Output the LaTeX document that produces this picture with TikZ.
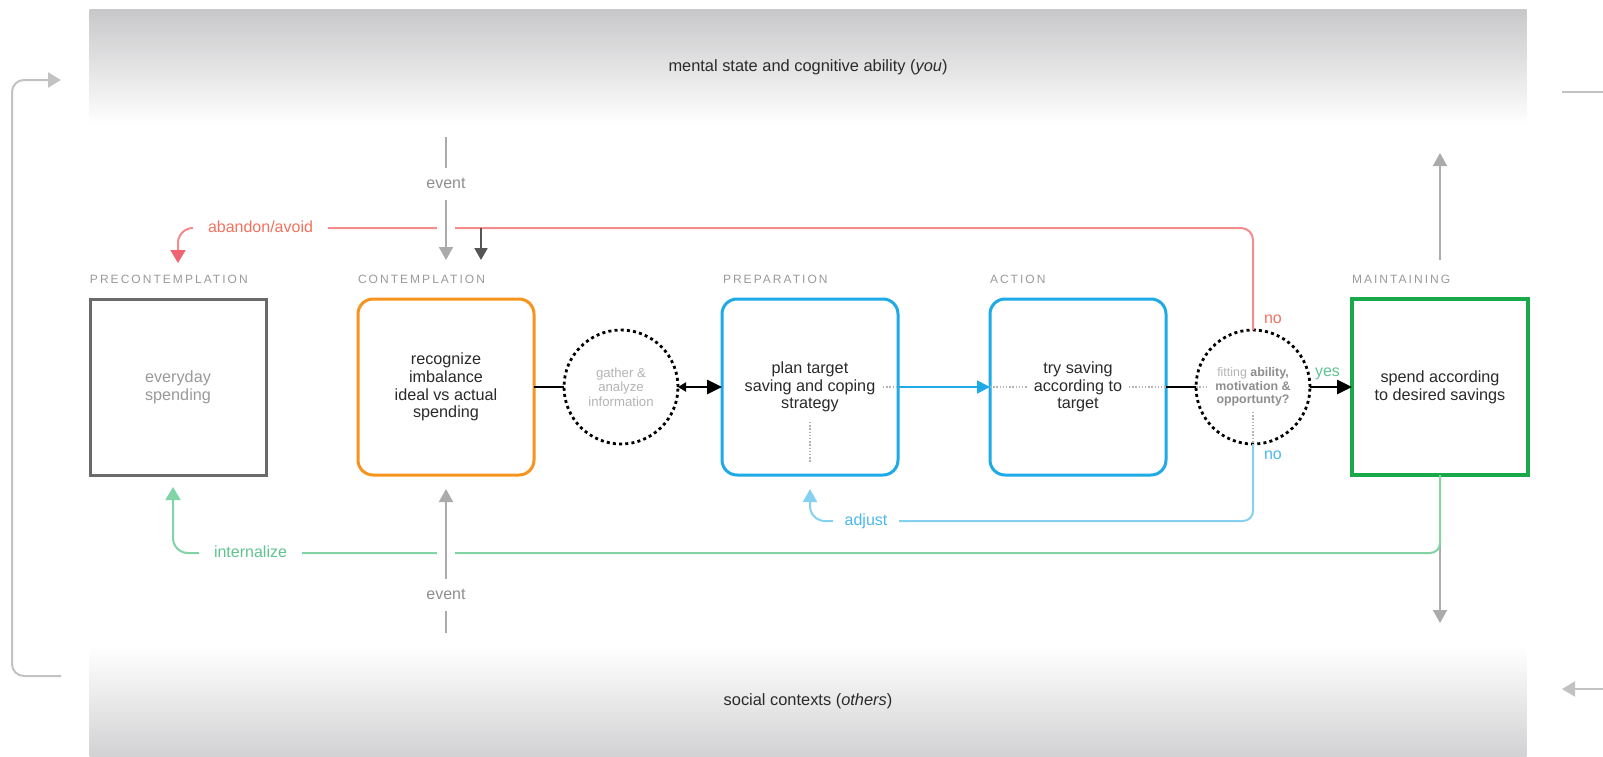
\documentclass[tikz,border=0pt]{standalone}
\usepackage{fontspec}
\setmainfont{Liberation Sans}
\newfontfamily\stagefont[LetterSpace=17]{Liberation Sans}
\usetikzlibrary{arrows.meta}

\definecolor{bandgray}{HTML}{C8C8CA}
\definecolor{bandgraybot}{HTML}{D2D2D4}
\definecolor{inkdark}{HTML}{2A2A2A}
\definecolor{softgray}{HTML}{9A9A9A}
\definecolor{palegray}{HTML}{B4B4B4}
\definecolor{midgray}{HTML}{8E8E8E}
\definecolor{arrowgray}{HTML}{ABABAB}
\definecolor{bracketgray}{HTML}{C2C2C2}
\definecolor{arrowdark}{HTML}{555555}
\definecolor{pregray}{HTML}{6A6A6A}
\definecolor{conorange}{HTML}{F7941D}
\definecolor{stepblue}{HTML}{1EAAE7}
\definecolor{keepgreen}{HTML}{19A84A}
\definecolor{abandonline}{HTML}{F48C8E}
\definecolor{abandontext}{HTML}{F2735F}
\definecolor{abandontip}{HTML}{EF6470}
\definecolor{internline}{HTML}{82D4A6}
\definecolor{interntext}{HTML}{5FC48F}
\definecolor{adjustline}{HTML}{86D1F1}
\definecolor{adjusttext}{HTML}{4DB9E9}

\begin{document}
\begin{tikzpicture}[x=0.5pt,y=-0.5pt,
  every node/.style={inner sep=0pt, outer sep=0pt},
  band/.style={minimum width=718.5pt, font=\fontsize{8.2}{10}\selectfont, text=inkdark},
  stagebox/.style={minimum width=88pt, minimum height=88pt, line width=1.5pt,
    align=center, font=\fontsize{8.1}{8.85}\selectfont, text=inkdark},
  roundbox/.style={stagebox, rounded corners=7.5pt},
  stagename/.style={anchor=west, font=\stagefont\fontsize{6}{6}\selectfont, text=softgray},
  dotcircle/.style={circle, draw=black, line width=1.4pt, dash pattern=on 1.5pt off 1.6pt,
    minimum size=57pt, align=center},
  dotgray/.style={draw=palegray, line width=0.7pt, dash pattern=on 0.7pt off 0.9pt},
  grayline/.style={draw=arrowgray, line width=1pt},
  grayarrow/.style={grayline, -{Triangle[length=6.5pt,width=7pt]}},
  evlab/.style={font=\fontsize{8}{8}\selectfont, text=midgray, text height=4.2pt,
    text depth=0pt, inner ysep=6pt},
  linelab/.style={font=\fontsize{8}{8}\selectfont, text height=4.2pt, text depth=0pt},
  smalllab/.style={font=\fontsize{8}{8}\selectfont, anchor=base west},
  halo/.style={draw=white, line width=9pt},
]
\fill[white] (0,0) rectangle (1603,756);
\useasboundingbox (0,0) rectangle (1603,756);

% context bands
\node[band, minimum height=58pt, top color=bandgray, bottom color=white] (mind) at (808,67)
  {mental state and cognitive ability (\textit{you})};
\node[band, minimum height=54.5pt, top color=white, bottom color=bandgraybot] (social) at (808,701.5)
  {social contexts (\textit{others})};

% outer feedback bracket and side connectors
\coordinate (lbot) at (61,676);
\coordinate (ltop) at (61,80);
\draw[draw=bracketgray, line width=1pt, rounded corners=6pt, -{Triangle[length=6.5pt,width=7.5pt]}]
  (lbot) -- (12,676) -- (12,80) -- (ltop);
\coordinate (rtopA) at (1562,92);
\coordinate (rtopB) at (1603,92);
\draw[draw=bracketgray, line width=1pt] (rtopA) -- (rtopB);
\coordinate (rbotA) at (1603,689);
\coordinate (rbotB) at (1562,689);
\draw[draw=bracketgray, line width=1pt, -{Triangle[length=6.5pt,width=7.5pt]}] (rbotA) -- (rbotB);

% stage names
\node[stagename] (lpre) at (90,279) {PRECONTEMPLATION};
\node[stagename] (lcon) at (358,279) {CONTEMPLATION};
\node[stagename] (lprep) at (723,279) {PREPARATION};
\node[stagename] (lact) at (990,279) {ACTION};
\node[stagename] (lmain) at (1352,279) {MAINTAINING};

% stages
\node[stagebox, draw=pregray, text=softgray] (pre) at (178,387) {everyday\\spending};
\node[roundbox, draw=conorange] (con) at (446,387) {recognize\\imbalance\\ideal vs actual\\spending};
\node[dotcircle, text=palegray, font=\fontsize{6.6}{7.2}\selectfont] (gather) at (621,387)
  {gather \&\\analyze\\information};
\node[roundbox, draw=stepblue] (prep) at (810,387) {plan target\\saving and coping\\strategy};
\node[roundbox, draw=stepblue] (act) at (1078,387) {try saving\\according to\\target};
\node[dotcircle, text=midgray, font=\fontsize{6.2}{6.75}\selectfont] (dec) at (1253,387)
  {{\color{palegray}fitting} \textbf{ability,}\\\textbf{motivation \&}\\\textbf{opportunty?}};
\node[stagebox, draw=keepgreen, line width=1.6pt] (main) at (1440,387) {spend according\\to desired savings};

% dotted guides through the plan and the trial
\coordinate (prepdot) at (883,387);
\coordinate (prepdown) at (810,422);
\coordinate (prepdownend) at (810,463);
\coordinate (actdotL) at (1027,387);
\coordinate (actdotR) at (1129,387);
\coordinate (decdot) at (1207,387);
\coordinate (decdown) at (1253,412);
\draw[dotgray] (prepdot) -- (prep.east);
\draw[dotgray] (prepdown) -- (prepdownend);
\draw[dotgray] (act.west) -- (actdotL);
\draw[dotgray] (actdotR) -- (decdot);
\draw[dotgray] (decdown) -- (dec.south);

% main flow
\draw[line width=0.6pt] (con.east) -- (gather.west);
\draw[line width=1.3pt, {Triangle[length=4pt,width=4.5pt]}-{Triangle[length=7.5pt,width=7pt]}]
  (gather.east) -- (prep.west);
\draw[draw=stepblue, line width=0.9pt, -{Triangle[length=6.5pt,width=6.5pt]}] (prep.east) -- (act.west);
\draw[line width=1.3pt] (act.east) -- (dec.west);
\draw[line width=1.3pt, -{Triangle[length=7.5pt,width=7pt]}] (dec.east) -- (main.west);

% outcome labels
\node[smalllab, text=abandontext] (no1) at (1264,323) {no};
\node[smalllab, text=interntext] (yes) at (1315,376) {yes};
\node[smalllab, text=adjusttext] (no2) at (1264,459) {no};

% maintaining feeds both contexts
\coordinate (mainbelow) at (1440,623);
\coordinate (mainabove) at (1440,260);
\coordinate (mainup) at (1440,153);
\draw[grayarrow] (main.south) -- (mainbelow);
\draw[grayarrow] (mainabove) -- (mainup);

% abandon loop
\node[linelab, text=abandontext, minimum width=67.5pt] (aband) at (260.5,228) {abandon/avoid};
\coordinate (redend) at (178,263);
\draw[draw=abandonline, line width=1pt, rounded corners=6pt] (dec.north) |- (aband.east);
\draw[draw=abandonline, line width=1pt, rounded corners=7.5pt,
  -{Triangle[length=6.5pt,width=7.5pt,color=abandontip]}] (aband.west) -| (redend);

% internalize loop
\node[linelab, text=interntext, minimum width=51.5pt] (intl) at (250.5,553) {internalize};
\coordinate (greenend) at (173,487);
\draw[draw=internline, line width=1pt, rounded corners=5pt] (main.south) |- (intl.east);
\draw[draw=internline, line width=1pt, rounded corners=7.5pt,
  -{Triangle[length=6.5pt,width=7.5pt]}] (intl.west) -| (greenend);

% adjust loop
\node[linelab, text=adjusttext, minimum width=33pt] (adj) at (866,521) {adjust};
\coordinate (blueend) at (810,489);
\draw[draw=adjustline, line width=1pt, rounded corners=5pt] (dec.south) |- (adj.east);
\draw[draw=adjustline, line width=1pt, rounded corners=7.5pt,
  -{Triangle[length=6.5pt,width=7pt]}] (adj.west) -| (blueend);

% events entering contemplation
\coordinate (ev1start) at (446,137);
\coordinate (ev1end) at (446,260);
\node[evlab] (ev1) at (446,184) {event};
\draw[halo] (ev1.south) -- (ev1end);
\draw[grayline] (ev1start) -- (ev1.north);
\draw[grayarrow] (ev1.south) -- (ev1end);

\coordinate (ev2start) at (446,633);
\coordinate (ev2end) at (446,489);
\node[evlab] (ev2) at (446,595) {event};
\draw[halo] (ev2.north) -- (ev2end);
\draw[grayline] (ev2start) -- (ev2.south);
\draw[grayarrow] (ev2.north) -- (ev2end);

% return into contemplation
\coordinate (darkstart) at (481,228);
\coordinate (darkend) at (481,260);
\draw[draw=arrowdark, line width=1pt, -{Triangle[length=6pt,width=6.5pt]}] (darkstart) -- (darkend);
\end{tikzpicture}
\end{document}
